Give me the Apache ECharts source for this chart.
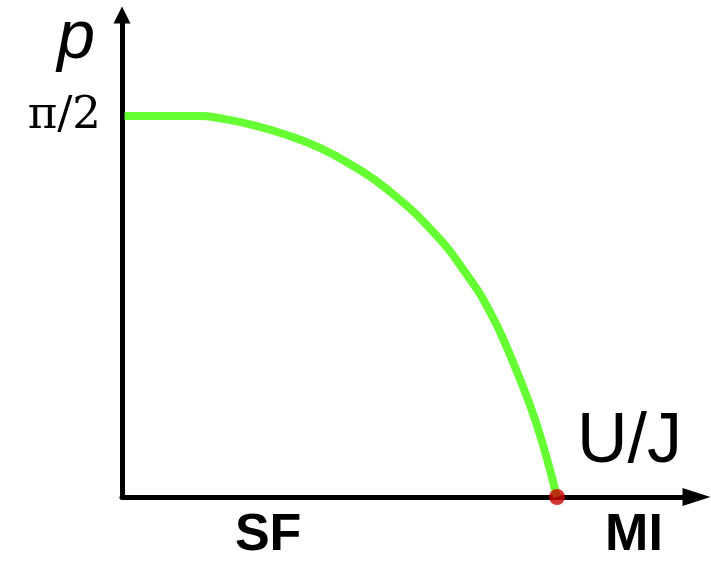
<!DOCTYPE html>
<html><head><meta charset="utf-8">
<script src="https://cdn.jsdelivr.net/npm/echarts@6/dist/echarts.min.js"></script>
<style>html,body{margin:0;padding:0;background:#fff}#c{width:711px;height:563px}</style>
</head><body><div id="c"></div>
<script>
// U/J (in units of the critical value) and p (in units of pi/2)
const uJ    = [0.006, 0.110, 0.179, 0.225, 0.301, 0.379, 0.455, 0.531, 0.609, 0.715, 0.793, 0.846, 0.892, 0.938, 0.968, 1.0];
const pVals = [1.0,   1.0,   1.0,   0.994, 0.976, 0.950, 0.916, 0.869, 0.808, 0.696, 0.583, 0.486, 0.373, 0.241, 0.136, 0.0];
const criticalPoint = [1.0, 0.0];
const yTickValues = [1];
const yTickLabels = ['π/2'];
const phaseNames = ['SF', 'MI'];
const phaseAt = [0.336, 1.177];
const xName = 'U/J';
const yName = 'p';

const chart = echarts.init(document.getElementById('c'), null, {renderer: 'canvas'});
const curve = uJ.map((u, i) => [u, pVals[i]]);

chart.setOption({
  animation: false,
  backgroundColor: '#ffffff',
  grid: {left: 122, right: 14.5, top: 15, bottom: 66, containLabel: false},
  xAxis: {
    type: 'value', min: 0, max: 1.3207,
    name: xName, nameLocation: 'end', nameGap: -67,
    nameTextStyle: {fontFamily: 'Liberation Sans', fontSize: 70, color: '#000', align: 'center', verticalAlign: 'bottom', lineHeight: 70, padding: [0, 0, 19, 0]},
    axisLine: {show: true, onZero: false, symbol: ['none', 'triangle'], symbolSize: [18, 28], lineStyle: {color: '#000', width: 5}},
    axisTick: {show: false},
    splitLine: {show: false},
    axisLabel: {
      show: true, customValues: phaseAt, margin: 13,
      formatter: (v) => { const i = phaseAt.indexOf(v); return i >= 0 ? phaseNames[i] : ''; },
      fontFamily: 'Liberation Sans', fontWeight: 'bold', fontSize: 52, color: '#000', lineHeight: 52
    }
  },
  yAxis: {
    type: 'value', min: 0, max: 1.265,
    name: yName, nameLocation: 'end', nameGap: -24,
    nameTextStyle: {fontFamily: 'Liberation Sans', fontStyle: 'italic', fontSize: 68, color: '#000', align: 'right', verticalAlign: 'middle', lineHeight: 68, padding: [0, 27, 0, 0]},
    axisLine: {show: true, onZero: false, symbol: ['none', 'triangle'], symbolSize: [17, 17], lineStyle: {color: '#000', width: 5}},
    axisTick: {show: false},
    splitLine: {show: false},
    axisLabel: {
      show: true, customValues: yTickValues, margin: 21,
      formatter: (v) => { const i = yTickValues.indexOf(v); return i >= 0 ? yTickLabels[i] : ''; },
      fontFamily: 'DejaVu Serif', fontSize: 45, color: '#000', padding: [4, 0, 0, 0]
    }
  },
  series: [
    {
      type: 'line', data: curve, smooth: 0.5, showSymbol: false, symbol: 'none',
      lineStyle: {color: '#66ff33', width: 8}, z: 3
    },
    {
      type: 'scatter', data: [criticalPoint], symbol: 'circle', symbolSize: 16,
      itemStyle: {color: '#cc0000'}, z: 4
    }
  ]
});
</script>
</body></html>
